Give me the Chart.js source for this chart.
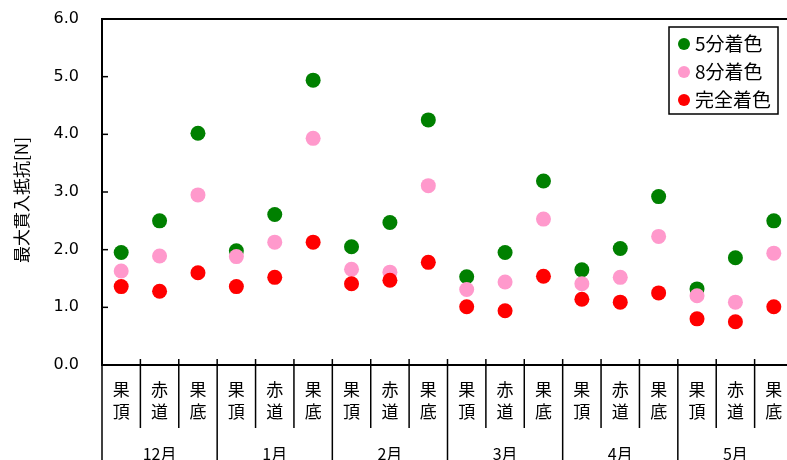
<!DOCTYPE html>
<html>
<head>
<meta charset="utf-8">
<script src="https://cdn.jsdelivr.net/npm/chart.js@4/dist/chart.umd.min.js"></script>
<style>
  html, body { margin: 0; padding: 0; background: #fff; overflow: hidden; }
  #wrap { width: 793px; height: 460px; }
</style>
</head>
<body>
<div id="wrap"><canvas id="c" width="793" height="460"></canvas></div>
<script>
// Months and fruit positions (x axis groups)
const months = ['12月', '1月', '2月', '3月', '4月', '5月'];
const parts = [['果', '頂'], ['赤', '道'], ['果', '底']];

// Maximum penetration resistance [N] per coloring stage
const color50 = [1.95, 2.50, 4.02, 1.98, 2.61, 4.94, 2.05, 2.47, 4.25, 1.53, 1.95, 3.19, 1.65, 2.02, 2.92, 1.32, 1.86, 2.50];
const color80 = [1.63, 1.89, 2.95, 1.88, 2.13, 3.93, 1.66, 1.61, 3.11, 1.31, 1.44, 2.53, 1.41, 1.52, 2.23, 1.20, 1.09, 1.94];
const colorFull = [1.36, 1.28, 1.60, 1.36, 1.52, 2.13, 1.41, 1.47, 1.78, 1.01, 0.94, 1.54, 1.14, 1.09, 1.25, 0.80, 0.75, 1.01];

const seriesNames = ['5分着色', '8分着色', '完全着色'];
const yTicks = [0, 1, 2, 3, 4, 5, 6];
const yTitle = '最大貫入抵抗[N]';

const labels = [];
months.forEach(() => parts.forEach(p => labels.push(p)));

const JP = '"Noto Sans CJK JP", "DejaVu Sans", sans-serif';

const decor = {
  id: 'decor',
  afterDraw(chart) {
    const ctx = chart.ctx, a = chart.chartArea, x = chart.scales.x, y = chart.scales.y;
    ctx.save();
    ctx.strokeStyle = '#000';
    ctx.fillStyle = '#000';

    // top and right frame
    ctx.lineWidth = 2;
    ctx.beginPath();
    ctx.moveTo(a.left, a.top);
    ctx.lineTo(a.right, a.top);
    ctx.lineTo(a.right, a.bottom);
    ctx.stroke();

    // inward y ticks
    ctx.lineWidth = 1.5;
    yTicks.forEach(v => {
      const py = y.getPixelForValue(v);
      ctx.beginPath();
      ctx.moveTo(a.left, py);
      ctx.lineTo(a.left + 6, py);
      ctx.stroke();
    });

    // category separators, month separators run to the bottom
    const half = (x.getPixelForValue(1) - x.getPixelForValue(0)) / 2;
    for (let i = 0; i <= labels.length; i++) {
      const px = i < labels.length ? x.getPixelForValue(i) - half : x.getPixelForValue(i - 1) + half;
      const isMonth = i % parts.length === 0;
      ctx.lineWidth = 1.5;
      ctx.beginPath();
      ctx.moveTo(px, a.bottom - 6);
      ctx.lineTo(px, isMonth ? chart.height : a.bottom + 63);
      ctx.stroke();
    }

    // month labels
    ctx.font = '16px ' + JP;
    ctx.textAlign = 'center';
    ctx.textBaseline = 'middle';
    months.forEach((m, k) => {
      const c = (x.getPixelForValue(k * 3) + x.getPixelForValue(k * 3 + 2)) / 2;
      ctx.fillText(m, c, 454);
    });

    // y axis title
    ctx.save();
    ctx.translate(22, 200);
    ctx.rotate(-Math.PI / 2);
    ctx.font = '17px ' + JP;
    ctx.textAlign = 'center';
    ctx.textBaseline = 'middle';
    ctx.fillText(yTitle, 0, 0);
    ctx.restore();

    // legend box
    const bx = 669, by = 27, bw = 109, bh = 87;
    ctx.fillStyle = '#fff';
    ctx.fillRect(bx, by, bw, bh);
    ctx.lineWidth = 1.5;
    ctx.strokeRect(bx, by, bw, bh);
    ctx.font = '19px ' + JP;
    ctx.textAlign = 'left';
    ctx.textBaseline = 'middle';
    chart.data.datasets.forEach((ds, i) => {
      const cy = 44 + i * 28;
      ctx.fillStyle = ds.backgroundColor;
      ctx.beginPath();
      ctx.arc(684, cy, 6, 0, Math.PI * 2);
      ctx.fill();
      ctx.fillStyle = '#000';
      ctx.fillText(ds.label, 695, cy);
    });
    ctx.restore();
  }
};

const colors = ['#008000', '#FF99CC', '#FF0000'];
const seriesData = [color50, color80, colorFull];

new Chart(document.getElementById('c'), {
  type: 'line',
  data: {
    labels: labels,
    datasets: seriesData.map((d, i) => ({
      label: seriesNames[i],
      data: d,
      showLine: false,
      backgroundColor: colors[i],
      borderColor: colors[i],
      borderWidth: 0,
      pointRadius: 7.5,
      pointHoverRadius: 7.5,
      pointBorderWidth: 0,
      order: 3 - i
    }))
  },
  options: {
    responsive: false,
    animation: false,
    devicePixelRatio: 1,
    layout: { autoPadding: false, padding: { top: 19, left: 0, right: 0, bottom: 0 } },
    plugins: { legend: { display: false }, tooltip: { enabled: false } },
    scales: {
      x: {
        type: 'category',
        offset: true,
        grid: { display: false, drawTicks: false },
        border: { display: true, color: '#000', width: 2 },
        ticks: {
          color: '#000',
          font: { family: JP, size: 17, lineHeight: '22px' },
          padding: 14,
          autoSkip: false,
          maxRotation: 0,
          minRotation: 0
        },
        afterFit(s) { s.height = 95; s.paddingLeft = 0; s.paddingRight = 0; }
      },
      y: {
        min: 0,
        max: 6,
        grid: { display: false, drawTicks: false },
        border: { display: true, color: '#000', width: 2 },
        ticks: {
          stepSize: 1,
          color: '#000',
          padding: 23,
          font: { family: '"DejaVu Sans", sans-serif', size: 16 },
          callback: v => Number(v).toFixed(1)
        },
        afterFit(s) { s.width = 102; s.paddingTop = 0; s.paddingBottom = 0; }
      }
    }
  },
  plugins: [decor]
});
</script>
</body>
</html>
